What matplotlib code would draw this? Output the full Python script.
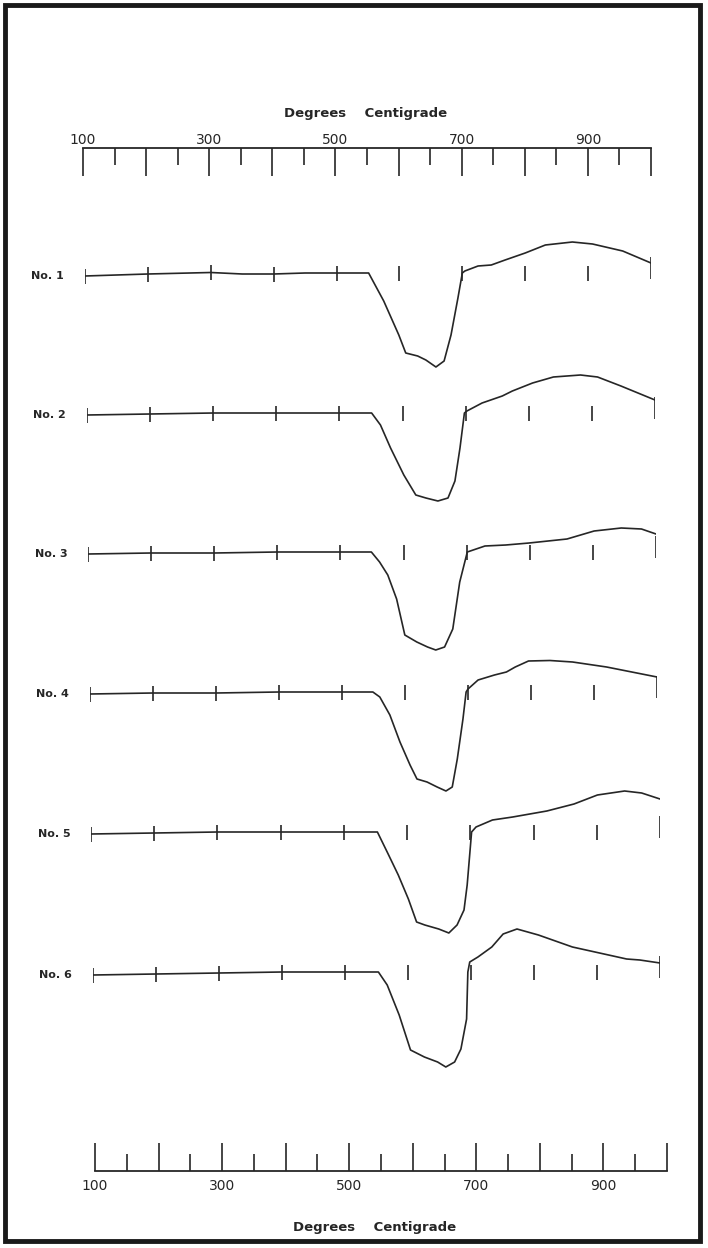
import matplotlib.pyplot as plt
import numpy as np
from matplotlib.patches import Rectangle
from matplotlib.ticker import FixedLocator, FuncFormatter

# DTA curves, deflection (1 unit ~ 1 px of the scan)
temps1 = [100, 200, 300, 350, 400, 450, 500, 551, 575, 599, 610, 629, 642, 658, 671, 682, 693, 700,
          704, 725, 746, 768, 800, 832, 875, 907, 955, 1000]
defl1 = [-3, -1, 0.5, -1, -1, 0, 0, 0, -28, -62, -80, -83, -87, -94, -88, -62, -25, 0,
         2, 7, 8, 13, 20, 28, 31, 29, 22, 10]

temps2 = [100, 200, 300, 400, 500, 551, 565, 581, 602, 621, 637, 656, 672, 683, 691, 698,
          702, 726, 758, 774, 806, 839, 882, 909, 946, 1000]
defl2 = [-2, -1, 0, 0, 0, 0, -12, -35, -62, -82, -85, -88, -85, -68, -35, 0,
         2, 10, 17, 22, 30, 36, 38, 36, 27, 13]

temps3 = [100, 200, 300, 400, 500, 549, 562, 575, 589, 602, 621, 638, 651, 665, 678, 689, 697,
          701, 729, 762, 799, 859, 902, 945, 977, 1000]
defl3 = [-2, -1, -1, 0, 0, 0, -10, -23, -47, -83, -90, -95, -98, -95, -77, -30, -10,
         0, 6, 7, 9, 13, 21, 24, 23, 18]

temps4 = [100, 200, 300, 400, 500, 549, 560, 576, 592, 608, 619, 635, 651, 665, 675, 683, 692,
          697, 700, 716, 742, 761, 775, 796, 830, 866, 920, 1000]
defl4 = [-2, -1, -1, 0, 0, 0, -5, -23, -50, -73, -87, -90, -95, -99, -95, -67, -27,
         0, 3, 12, 17, 20, 25, 31, 31.5, 30, 25, 15]

temps5 = [100, 200, 300, 400, 500, 553, 570, 586, 602, 615, 628, 650, 666, 679, 690, 695,
          702, 709, 735, 767, 821, 864, 901, 944, 971, 1000]
defl5 = [-2, -1, 0, 0, 0, 0, -22, -43, -67, -90, -93, -97, -101, -93, -78, -53,
         0, 5, 12, 15, 21, 28, 37, 41, 39, 33]

temps6 = [100, 200, 300, 400, 500, 553, 567, 586, 604, 626, 647, 660, 674, 684, 693, 695,
          698, 711, 733, 751, 773, 807, 861, 904, 947, 968, 1000]
defl6 = [-3, -2, -1, 0, 0, 0, -13, -43, -78, -85, -90, -95, -90, -77, -47, 0,
         10, 15, 25, 38, 43, 37, 25, 19, 13, 12, 9]

labels = ["No. 1", "No. 2", "No. 3", "No. 4", "No. 5", "No. 6"]
curves = [(temps1, defl1), (temps2, defl2), (temps3, defl3),
          (temps4, defl4), (temps5, defl5), (temps6, defl6)]

scale_major = [100, 200, 300, 400, 500, 600, 700, 800, 900, 1000]
scale_minor = [150, 250, 350, 450, 550, 650, 750, 850, 950]
scale_labels = {100: "100", 300: "300", 500: "500", 700: "700", 900: "900"}
curve_ticks = [100, 200, 300, 400, 500, 600, 700, 800, 900, 1000]

W, H = 708, 1248
INK = "#262626"
fig = plt.figure(figsize=(W / 100, H / 100), dpi=100)
fig.patch.set_facecolor("white")


def px_axes(left, right, top, bottom):
    ax = fig.add_axes([left / W, 1 - bottom / H, (right - left) / W, (bottom - top) / H])
    ax.set_facecolor("none")
    return ax


def scale_axis(ax, where, pad):
    ax.set_xlim(100, 1000)
    ax.set_yticks([])
    for s in ax.spines:
        ax.spines[s].set_visible(s == where)
    ax.spines[where].set_linewidth(1.3)
    ax.spines[where].set_color(INK)
    ax.xaxis.set_major_locator(FixedLocator(scale_major))
    ax.xaxis.set_minor_locator(FixedLocator(scale_minor))
    ax.xaxis.set_major_formatter(FuncFormatter(lambda v, p: scale_labels.get(int(round(v)), "")))
    ax.tick_params(axis="x", which="major", direction="in", length=20, width=1.2,
                   color=INK, labelsize=10, labelcolor=INK, pad=pad)
    ax.tick_params(axis="x", which="minor", direction="in", length=12, width=1.2, color=INK)
    if where == "top":
        ax.xaxis.tick_top()
        ax.tick_params(axis="x", which="both", top=True, bottom=False, labeltop=True, labelbottom=False)


# top temperature scale
ax_top = px_axes(83, 651, 148, 220)
scale_axis(ax_top, "top", 1)
fig.text(366 / W, 1 - 113 / H, "Degrees    Centigrade", ha="center", va="center",
         fontsize=9.5, fontweight="bold", color=INK)

# the six curves
rows = [(85, 651, 273), (87, 655, 413), (88, 656, 552),
        (90, 657, 692), (91, 660, 832), (93, 660, 972)]
for (temps, defl), label, (left, right, yb) in zip(curves, labels, rows):
    ax = px_axes(left, right, yb - 55, yb + 115)
    ax.set_xlim(100, 1000)
    ax.set_ylim(-115, 55)
    ax.axis("off")
    ax.plot(temps, defl, color=INK, lw=1.2, solid_joinstyle="round")
    t = np.array(curve_ticks)
    mid = np.where(t <= 500, np.interp(t, temps, defl), 0)
    lo = mid - 7.5
    hi = mid + 7.5
    lo[-1], hi[-1] = -6, 16
    ax.vlines(t, lo, hi, color=INK, lw=1.2)
    ax.annotate(label, xy=(100, defl[0]), xytext=(-15, 0), textcoords="offset points",
                ha="right", va="center", fontsize=8, fontweight="bold", color=INK)

# bottom temperature scale
ax_bot = px_axes(95, 667, 1100, 1171)
scale_axis(ax_bot, "bottom", 6)
fig.text(375 / W, 1 - 1228 / H, "Degrees    Centigrade", ha="center", va="center",
         fontsize=9.5, fontweight="bold", color=INK)

# drawing frame
fig.patches.append(Rectangle((5 / W, 1 - 1241 / H), 695 / W, 1236 / H, transform=fig.transFigure,
                             fill=False, lw=3.5, edgecolor="#1a1a1a"))

fig.savefig("out.png", dpi=100, facecolor="white")
